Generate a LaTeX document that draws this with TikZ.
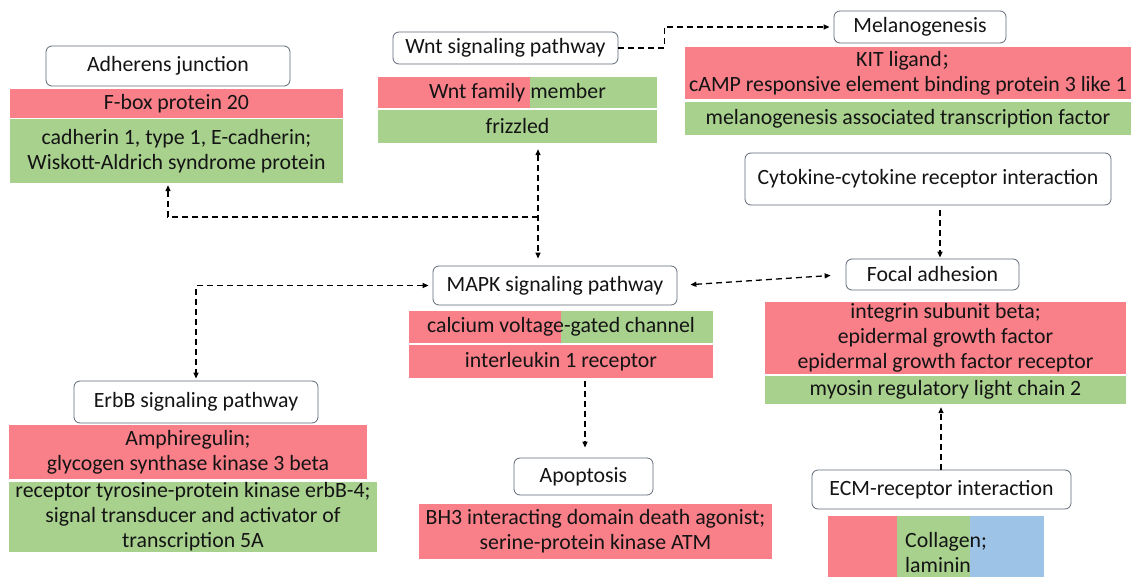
\documentclass[tikz,border=0pt]{standalone}
\usepackage{fontspec}
\setmainfont{Carlito}
\newfontfamily\cjk{Noto Sans CJK SC}
\usetikzlibrary{arrows.meta}
\definecolor{pinkred}{RGB}{249,127,137}
\definecolor{lgreen}{RGB}{168,209,142}
\definecolor{lblue}{RGB}{157,195,230}
\definecolor{boxgray}{RGB}{95,105,120}
\definecolor{txt}{RGB}{20,20,20}
\tikzset{
  every node/.style={font=\fontsize{21.8}{25}\selectfont, text=txt},
  box/.style={draw=boxgray, line width=0.8pt, rounded corners=6pt, fill=white, inner sep=0pt, align=center},
  row/.style={inner sep=0pt, align=center},
  conn/.style={line width=1.3pt, dash pattern=on 6pt off 4pt, arrows={-}},
  tip/.style={-{Triangle[length=6pt,width=5pt]}},
  tips/.style={{Triangle[length=6pt,width=5pt]}-{Triangle[length=6pt,width=5pt]}},
}
\begin{document}
\begin{tikzpicture}[x=1pt,y=-1pt]
\useasboundingbox (0,0) rectangle (1132,577);

% Adherens junction
\node[box, minimum width=244pt, minimum height=40pt] (adh) at (168,66) {Adherens junction};
\node[row, fill=pinkred, minimum width=333pt, minimum height=29pt] (fbox) at (176.5,103.5) {F-box protein 20};
\node[row, fill=lgreen, minimum width=333pt, minimum height=64pt] (cadh) at (176.5,151) {cadherin 1, type 1, E-cadherin;\\Wiskott-Aldrich syndrome protein};

% Wnt
\node[box, minimum width=225pt, minimum height=32pt] (wnt) at (505.5,48) {Wnt signaling pathway};
\node[row, fill=pinkred, minimum width=152pt, minimum height=31pt] (wntL) at (454,92.5) {};
\node[row, fill=lgreen, minimum width=127pt, minimum height=31pt] (wntR) at (593.5,92.5) {};
\node[row] (wntfam) at (517.5,92.5) {Wnt family member};
\node[row, fill=lgreen, minimum width=279pt, minimum height=33pt] (frz) at (517.5,126.5) {frizzled};

% Melanogenesis
\node[box, minimum width=172pt, minimum height=32pt] (mel) at (920,27) {Melanogenesis};
\node[row, fill=pinkred, minimum width=446pt, minimum height=52pt] (kit) at (908,73) {KIT ligand{\cjk\fontsize{18}{25}\selectfont ；}\\cAMP responsive element binding protein 3 like 1};
\node[row, fill=lgreen, minimum width=446pt, minimum height=33pt] (mitf) at (908,118.5) {melanogenesis associated transcription factor};

% Cytokine
\node[box, minimum width=366pt, minimum height=52pt] (cyto) at (928,179) {Cytokine-cytokine receptor interaction};

% Focal adhesion
\node[box, minimum width=173pt, minimum height=31pt] (focal) at (932.5,274.5) {Focal adhesion};
\node[row, fill=pinkred, minimum width=361pt, minimum height=72pt] (integ) at (945.5,338) {integrin subunit beta;\\epidermal growth factor\\epidermal growth factor receptor};
\node[row, fill=lgreen, minimum width=361pt, minimum height=28pt] (myo) at (945.5,390) {myosin regulatory light chain 2};

% MAPK
\node[box, minimum width=244pt, minimum height=39pt] (mapk) at (555,285.5) {MAPK signaling pathway};
\node[row, fill=pinkred, minimum width=152pt, minimum height=32pt] (calL) at (485,327) {};
\node[row, fill=lgreen, minimum width=152pt, minimum height=32pt] (calR) at (637,327) {};
\node[row] (calc) at (561,327) {calcium voltage-gated channel};
\node[row, fill=pinkred, minimum width=304pt, minimum height=33pt] (il1) at (561,361.5) {interleukin 1 receptor};

% ErbB
\node[box, minimum width=244pt, minimum height=42pt] (erbb) at (196,402) {ErbB signaling pathway};
\node[row, fill=pinkred, minimum width=358pt, minimum height=54pt] (amph) at (188,452) {Amphiregulin;\\glycogen synthase kinase 3 beta};
\node[row, fill=lgreen, minimum width=368pt, minimum height=70pt] (recep) at (193,517) {receptor tyrosine-protein kinase erbB-4;\\signal transducer and activator of\\transcription 5A};

% Apoptosis
\node[box, minimum width=139pt, minimum height=37pt] (apop) at (583.5,476.5) {Apoptosis};
\node[row, fill=pinkred, minimum width=353pt, minimum height=55pt] (bh3) at (595.5,531.5) {BH3 interacting domain death agonist;\\serine-protein kinase ATM};

% ECM
\node[box, minimum width=259pt, minimum height=39pt] (ecm) at (941.5,489.5) {ECM-receptor interaction};
\node[row, fill=pinkred, minimum width=69pt, minimum height=61pt] (ecmR) at (862.5,546.5) {};
\node[row, fill=lgreen, minimum width=73pt, minimum height=61pt] (ecmG) at (933.5,546.5) {};
\node[row, fill=lblue, minimum width=74pt, minimum height=61pt] (ecmB) at (1007,546.5) {};
\node[row, anchor=west, align=left] (coll) at (905,553) {Collagen;\\laminin};

% Connectors
\draw[conn, tip, shorten >=4pt] (wnt.east) -- ++(46,0) |- (mel.west);
\coordinate (junc) at (538,217);
\draw[conn, tips, shorten <=6pt, shorten >=7pt] ([xshift=20.5pt]frz.south) -- ([xshift=-17pt]mapk.north);
\draw[conn, tip, shorten >=2pt] (junc) -| ([xshift=-8.5pt]cadh.south);
\draw[conn, tips, shorten <=4pt, shorten >=2pt] (mapk.west) -| (erbb.north);
\draw[conn, tips, shorten <=13pt, shorten >=15pt] (mapk.east) -- (focal.west);
\draw[conn, tip, shorten <=5pt, shorten >=1pt] ([xshift=12pt]cyto.south) -- ([xshift=7.5pt]focal.north);
\draw[conn, tip, shorten <=3pt, shorten >=10pt] ([xshift=24pt]il1.south) -- ([xshift=1.5pt]apop.north);
\draw[conn, tip, shorten >=3pt] ([xshift=-0.5pt]ecm.north) -- ([xshift=-4.5pt]myo.south);
\end{tikzpicture}
\end{document}
